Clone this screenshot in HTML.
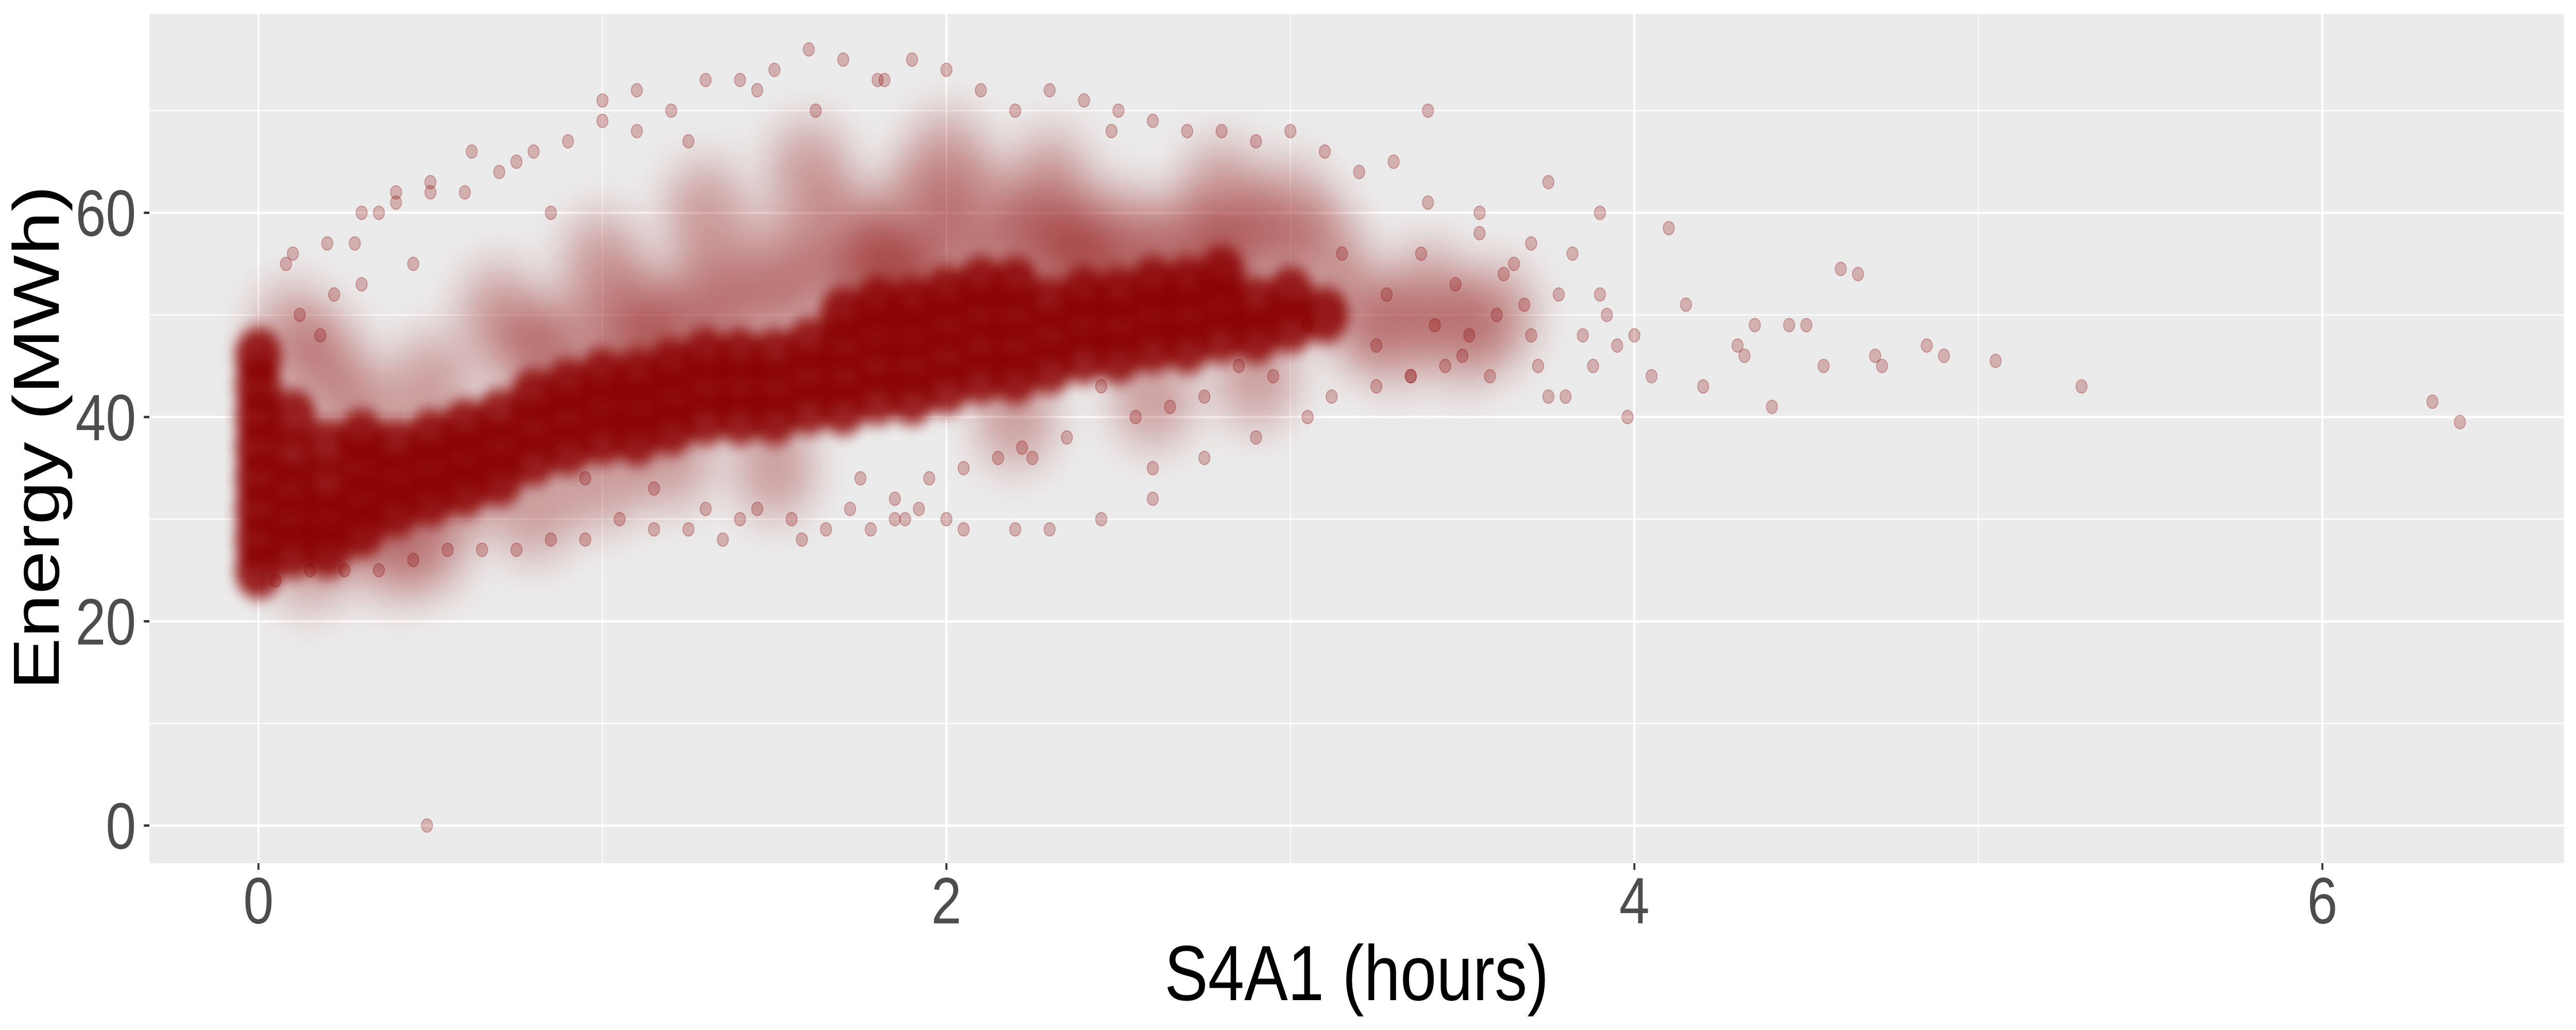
<!DOCTYPE html>
<html><head><meta charset="utf-8">
<style>
html,body{margin:0;padding:0;background:#fff;overflow:hidden;width:100%;height:100%;}
svg{display:block;width:100vw;height:100vh;}
text{font-family:"Liberation Sans",Arial,sans-serif;}
</style></head>
<body>
<svg id="chart" viewBox="0 0 6000 2000" preserveAspectRatio="none" xmlns="http://www.w3.org/2000/svg">
  <defs>
    <clipPath id="panelClip"><rect x="348" y="27" width="5624" height="1649"/></clipPath>
    <filter id="blurCore" x="-20%" y="-20%" width="140%" height="140%"><feGaussianBlur stdDeviation="14"/></filter>
    <filter id="blurHalo" x="-20%" y="-20%" width="140%" height="140%"><feGaussianBlur stdDeviation="45"/></filter>
  </defs>
  <rect x="348" y="27" width="5624" height="1649" fill="#EBEBEB"/>
  <g id="grid"></g>
  <g clip-path="url(#panelClip)">
    <g id="halo" filter="url(#blurHalo)"></g>
    <g id="core" filter="url(#blurCore)"></g>
    <g id="pts"></g>
  </g>
  <g id="axes"></g>
  <text x="3160" y="1942" font-size="152" text-anchor="middle" fill="#000">S4A1 (hours)</text>
  <text transform="translate(137,850) rotate(-90)" font-size="152" text-anchor="middle" fill="#000">Energy (MWh)</text>
</svg>
<script>
const xTicks=[0,2,4,6];
const xMinor=[1,3,5];
const yTicks=[0,20,40,60];
const yMinor=[10,30,50,70];
// dense core cloud (x hours, y MWh)
const coreX=[0,0,0,0,0,0,0,0,0.1,0.1,0.1,0.1,0.1,0.2,0.2,0.2,0.2,0.3,0.3,0.3,0.3,0.4,0.4,0.4,0.5,0.5,0.5,0.6,0.6,0.6,0.7,0.7,0.7,0.8,0.8,0.8,0.9,0.9,0.9,1.0,1.0,1.0,1.1,1.1,1.1,1.2,1.2,1.2,1.3,1.3,1.3,1.4,1.4,1.4,1.5,1.5,1.5,1.6,1.6,1.6,1.7,1.7,1.7,1.7,1.8,1.8,1.8,1.8,1.9,1.9,1.9,1.9,2.0,2.0,2.0,2.0,2.1,2.1,2.1,2.1,2.2,2.2,2.2,2.2,2.3,2.3,2.3,2.4,2.4,2.4,2.5,2.5,2.5,2.6,2.6,2.6,2.7,2.7,2.7,2.8,2.8,2.8,2.9,2.9,3.0,3.0,3.1];
const coreY=[25,28,31,34,37,40,43,46,27,30,33,36,40,27,30,33,37,29,32,35,38,31,34,37,32,35,38,33,36,39,34,37,40,36,39,42,37,40,43,38,41,44,38,41,44,39,42,45,40,43,46,40,43,46,40,43,46,41,44,47,41,44,47,50,42,45,48,51,42,45,48,51,43,46,49,52,44,47,50,53,44,47,50,53,45,48,51,46,49,52,46,49,52,47,50,53,47,50,53,48,51,54,48,51,49,52,50];
// medium density surroundings
const haloX=[0.1,0.3,0.5,0.5,0.8,0.8,1.1,1.0,1.3,1.5,1.5,1.7,1.9,2.1,1.8,2.3,2.5,2.7,2.9,3.1,3.2,3.3,2.2,2.6,2.9,1.3,1.6,2.0,2.3,1.0,0.7,0.2,3.4,3.5,3.6,1.2,0.6,0.4,2.8,3.0,1.9,2.4,1.4,1.6,1.8,2.0,2.2,2.4,2.6,2.8,1.1,1.2,0.9,0.3,0.15];
const haloY=[48,40,43,28,46,31,50,34,52,55,35,58,60,60,55,58,58,57,57,56,50,48,40,42,44,60,64,65,63,55,50,45,52,48,50,36,34,27,62,60,52,54,50,52,54,55,56,56,55,55,46,48,47,30,26];
// individual sparse points
const ptsX=[0.49,6.32,6.4,5.3,5.05,4.9,4.85,4.7,4.72,4.65,4.6,4.55,4.5,4.45,4.4,4.35,4.3,4.32,4.2,4.15,4.1,4.05,4.0,3.98,3.95,3.92,3.9,3.88,3.85,3.8,3.78,3.75,3.72,3.7,3.68,3.65,3.6,3.58,3.55,3.52,3.5,3.48,3.45,3.42,3.4,3.38,3.35,3.3,3.28,3.25,3.2,3.15,3.1,3.05,3.0,2.95,2.9,2.85,2.8,2.75,2.7,2.65,2.6,2.55,2.5,2.45,2.4,2.35,2.3,2.25,2.2,2.15,2.1,2.05,2.0,1.95,1.9,1.85,1.8,1.75,1.7,1.65,1.6,1.55,1.5,1.45,1.4,1.35,1.3,1.25,1.2,1.15,1.1,1.05,1.0,0.95,0.9,0.85,0.8,0.75,0.7,0.65,0.6,0.55,0.5,0.45,0.4,0.35,0.3,0.25,0.2,0.15,0.1,0.05,1.58,1.72,1.78,1.85,2.0,2.05,1.4,1.3,1.15,0.95,0.45,0.4,0.35,0.3,0.22,0.18,0.12,0.08,2.3,2.45,2.6,2.75,2.9,3.05,3.12,3.25,3.35,1.88,1.92,2.2,2.22,2.6,0.28,0.5,0.62,0.75,0.85,1.0,1.1,1.25,1.45,1.62,1.82,2.48,3.4,3.55,3.62,3.7,3.75,3.82,3.9];
const ptsY=[0,41.5,39.5,43,45.5,46,47,46,45,54,54.5,45,49,49,41,49,47,46,43,51,58.5,44,48,40,47,50,60,45,48,42,52,63,45,57,51,55,50,44,58,48,46,53,45,49,61,56,44,65,52,47,64,56,66,49,68,44,67,45,68,42,68,41,69,40,70,43,71,38,72,36,70,36,72,35,74,34,75,30,73,34,75,29,76,30,74,31,73,28,73,29,70,29,72,30,71,28,67,28,66,27,64,27,62,27,62,26,61,25,60,25,57,25,56,24,28,31,29,32,30,29,30,31,33,34,55,62,60,53,52,48,50,55,29,30,32,36,38,40,42,43,44,30,31,29,37,35,57,63,66,65,60,69,68,67,72,70,73,68,70,60,54,48,42,56,52];

const X0=348,X1=5972,Y0=27,Y1=1676;
const xs=v=>602+v*801.2;
const ys=v=>1603-v*19.83;
const NS="http://www.w3.org/2000/svg";
function mk(tag,attrs,parent){const e=document.createElementNS(NS,tag);for(const k in attrs)e.setAttribute(k,attrs[k]);parent.appendChild(e);return e;}
const grid=document.getElementById('grid'),axes=document.getElementById('axes');
yMinor.forEach(v=>{const l=mk('line',{x1:X0,x2:X1,y1:ys(v),y2:ys(v),stroke:'#fff','stroke-width':2.3},grid);

});
xMinor.forEach(v=>{const l=mk('line',{x1:xs(v),x2:xs(v),y1:Y0,y2:Y1,stroke:'#fff','stroke-width':2.3},grid);

});
yTicks.forEach(v=>{const l=mk('line',{x1:X0,x2:X1,y1:ys(v),y2:ys(v),stroke:'#fff','stroke-width':4.6},grid);


const t=mk('line',{x1:X0-13,x2:X0,y1:ys(v),y2:ys(v),stroke:'#333','stroke-width':4.6},axes);


const tx=mk('text',{x:317,y:ys(v)+45,'font-size':127,'text-anchor':'end',fill:'#4D4D4D'},axes);
tx.textContent=String(v);

});
xTicks.forEach(v=>{const l=mk('line',{x1:xs(v),x2:xs(v),y1:Y0,y2:Y1,stroke:'#fff','stroke-width':4.6},grid);


const t=mk('line',{x1:xs(v),x2:xs(v),y1:Y1,y2:Y1+13,stroke:'#333','stroke-width':4.6},axes);


const tx=mk('text',{x:xs(v),y:1793,'font-size':127,'text-anchor':'middle',fill:'#4D4D4D'},axes);
tx.textContent=String(v);

});
const halo=document.getElementById('halo');
haloX.forEach((x,i)=>{const c=mk('circle',{cx:xs(x),cy:ys(haloY[i]),r:95,fill:'#8B0000','fill-opacity':0.33},halo);

});
const core=document.getElementById('core');
coreX.forEach((x,i)=>{const c=mk('circle',{cx:xs(x),cy:ys(coreY[i]),r:55,fill:'#8B0000','fill-opacity':0.85},core);

});
const pts=document.getElementById('pts');
ptsX.forEach((x,i)=>{const c=mk('circle',{cx:xs(x),cy:ys(ptsY[i]),r:13,fill:'#8B0000','fill-opacity':0.25,stroke:'#8B0000','stroke-opacity':0.3,'stroke-width':2},pts);

});
</script>
</body></html>
